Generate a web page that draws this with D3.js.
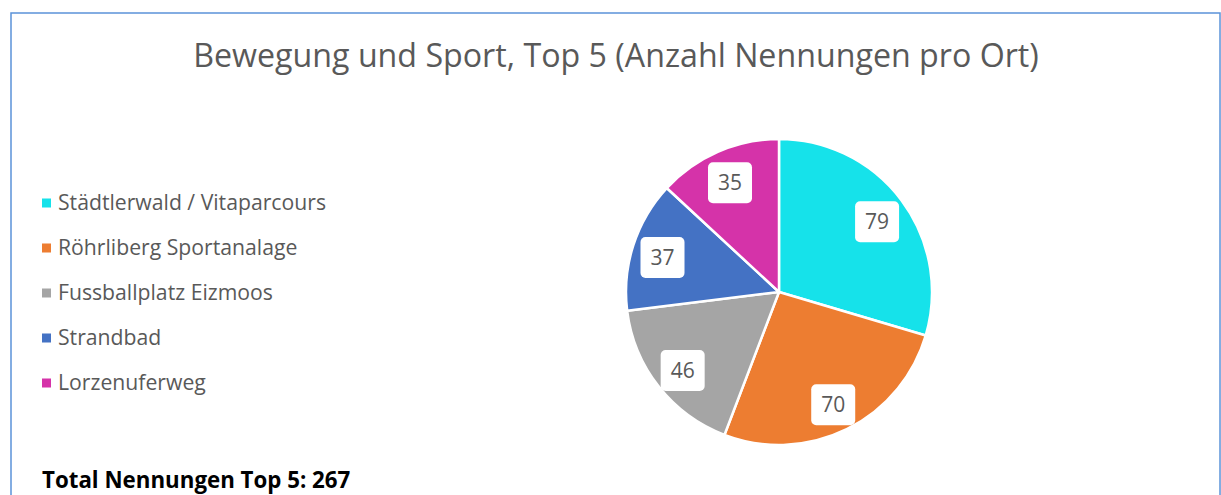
<!doctype html>
<html>
  <head>
    <meta charset="utf-8">
    <script src="https://cdn.jsdelivr.net/npm/d3@7"></script>
    <style>
      body { margin: 0; background: #fff; }
      svg { display: block; font-family: "Open Sans", sans-serif; }
    </style>
  </head>
  <body>
    <svg id="chart" width="1221" height="495"></svg>

    <script>
      // data
      var title = "Bewegung und Sport, Top 5 (Anzahl Nennungen pro Ort)";
      var places = ["Städtlerwald / Vitaparcours", "Röhrliberg Sportanalage",
                    "Fussballplatz Eizmoos", "Strandbad", "Lorzenuferweg"];
      var counts = [79, 70, 46, 37, 35];
      var colors = ["#16e2ea", "#ed7d31", "#a5a5a5", "#4472c4", "#d533a9"];
      var totalText = "Total Nennungen Top 5: 267";

      var svg = d3.select("#chart");

      // frame
      svg.append("rect")
        .attr("x", 11).attr("y", 13)
        .attr("width", 1209).attr("height", 500)
        .attr("fill", "#fff")
        .attr("stroke", "#5b93d9")
        .attr("stroke-width", 1.5);

      svg.append("text")
        .attr("x", 616).attr("y", 67)
        .attr("text-anchor", "middle")
        .attr("fill", "#595959")
        .attr("font-size", 32.2)
        .text(title);

      // pie
      var cx = 779, cy = 292, r = 153;
      var pie = d3.pie().sort(null).value(function(d) { return d; });
      var arc = d3.arc().innerRadius(0).outerRadius(r);
      var labelArc = d3.arc().innerRadius(r * 0.8).outerRadius(r * 0.8);

      var g = svg.append("g").attr("transform", "translate(" + cx + "," + cy + ")");
      var slices = pie(counts);

      g.selectAll("path")
        .data(slices)
        .enter()
        .append("path")
          .attr("d", arc)
          .attr("fill", function(d, i) { return colors[i]; })
          .attr("stroke", "#fff")
          .attr("stroke-width", 2.5)
          .attr("stroke-linejoin", "round");

      // excel puts the data labels a touch below the centroid
      var labels = g.selectAll("g.lab")
        .data(slices)
        .enter()
        .append("g")
          .attr("class", "lab")
          .attr("transform", function(d) {
            var c = labelArc.centroid(d);
            return "translate(" + c[0] + "," + (c[1] + 3) + ")";
          });

      labels.append("rect")
        .attr("x", -22).attr("y", -20.5)
        .attr("width", 44).attr("height", 41)
        .attr("rx", 5)
        .attr("fill", "#fff");

      labels.append("text")
        .attr("text-anchor", "middle")
        .attr("dy", "0.36em")
        .attr("fill", "#595959")
        .attr("font-size", 21)
        .text(function(d) { return d.data; });

      // legend
      var legend = svg.append("g");
      var row = d3.scalePoint().domain(places).range([203, 383]);

      legend.selectAll("rect")
        .data(places)
        .enter()
        .append("rect")
          .attr("x", 42)
          .attr("y", function(d) { return row(d) - 4.5; })
          .attr("width", 9).attr("height", 9)
          .attr("fill", function(d, i) { return colors[i]; });

      legend.selectAll("text")
        .data(places)
        .enter()
        .append("text")
          .attr("x", 58)
          .attr("y", function(d) { return row(d); })
          .attr("dy", "0.35em")
          .attr("fill", "#595959")
          .attr("font-size", 21.2)
          .text(function(d) { return d; });

      svg.append("text")
        .attr("x", 42).attr("y", 488)
        .attr("fill", "#000")
        .attr("font-weight", "bold")
        .attr("font-size", 22.3)
        .text(totalText);
    </script>
  </body>
</html>
